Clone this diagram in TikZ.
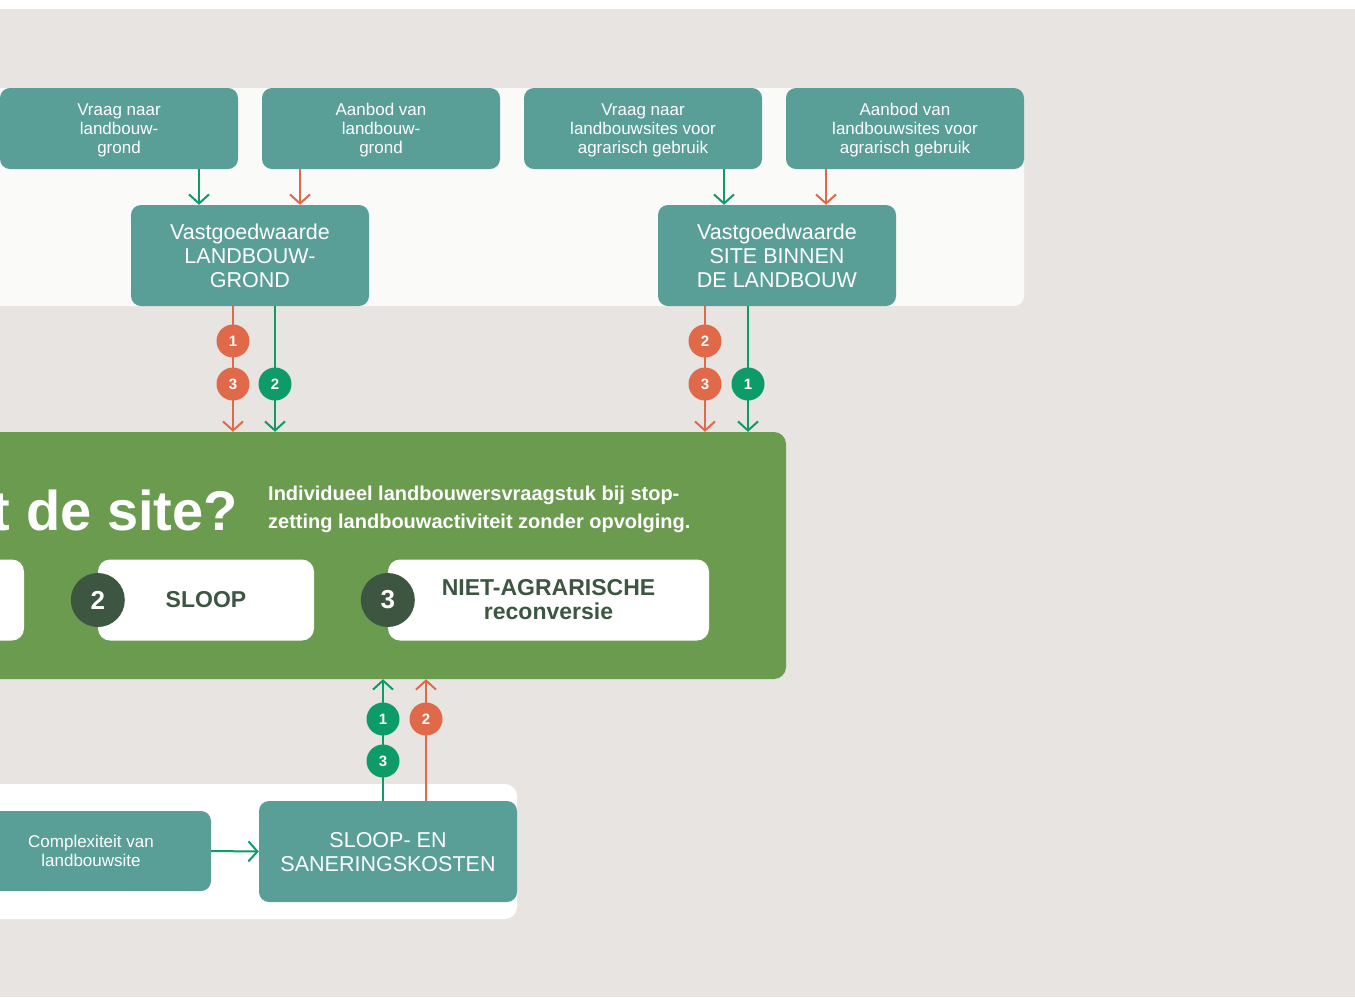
\documentclass[tikz,border=0pt]{standalone}
\usepackage{fontspec}
\setmainfont{Liberation Sans}
\usetikzlibrary{arrows.meta}
\definecolor{achter}{HTML}{E8E4E1}
\definecolor{paneel}{HTML}{FAFAF8}
\definecolor{blauwgroen}{HTML}{5A9E98}
\definecolor{oranje}{HTML}{E0694A}
\definecolor{groen}{HTML}{0E9B6A}
\definecolor{veld}{HTML}{6A9B4E}
\definecolor{donker}{HTML}{3C5641}
\begin{document}
\begin{tikzpicture}[x=1pt,y=-1pt,
  tbox/.style={rectangle,rounded corners=10pt,fill=blauwgroen,text=white,align=center,inner sep=0pt},
  klein/.style={font=\fontsize{17}{19}\selectfont,text depth=0pt},
  groot/.style={font=\fontsize{21.5}{24}\selectfont,text depth=0pt},
  wbox/.style={rectangle,rounded corners=12pt,fill=white,text=donker,align=center,inner sep=0pt,minimum height=81pt,font=\bfseries\fontsize{23}{24}\selectfont},
  onum/.style={circle,fill=oranje,text=white,minimum size=33pt,inner sep=0pt,font=\bfseries\fontsize{15}{15}\selectfont},
  gnum/.style={onum,fill=groen},
  dnum/.style={circle,fill=donker,text=white,minimum size=54pt,inner sep=0pt,font=\bfseries\fontsize{26}{26}\selectfont},
  opijl/.style={draw=oranje,line width=2pt,-{Straight Barb[length=9pt,width=20pt]}},
  gpijl/.style={opijl,draw=groen}]
 	\useasboundingbox (0,0) rectangle (1355,997);
 	\clip (0,0) rectangle (1355,997);
 	\fill[white] (0,0) rectangle (1355,997);
 	\fill[achter] (0,9) rectangle (1355,997);
 	\fill[paneel,rounded corners=10pt] (-20,88) rectangle (1024,306);
 	\fill[white,rounded corners=12pt] (-20,784) rectangle (517,919);
 	\node[tbox,klein,minimum width=238pt,minimum height=81pt] (vraaggrond) at (119,128.5) {Vraag naar\\landbouw-\\grond};
 	\node[tbox,klein,minimum width=238pt,minimum height=81pt] (aanbodgrond) at (381,128.5) {Aanbod van\\landbouw-\\grond};
 	\node[tbox,klein,minimum width=238pt,minimum height=81pt] (vraagsite) at (643,128.5) {Vraag naar\\landbouwsites voor\\agrarisch gebruik};
 	\node[tbox,klein,minimum width=238pt,minimum height=81pt] (aanbodsite) at (905,128.5) {Aanbod van\\landbouwsites voor\\agrarisch gebruik};
 	\node[tbox,groot,minimum width=238pt,minimum height=101pt] (vggrond) at (250,255.5) {Vastgoedwaarde\\LANDBOUW-\\GROND};
 	\node[tbox,groot,minimum width=238pt,minimum height=101pt] (vgsite) at (777,255.5) {Vastgoedwaarde\\SITE BINNEN\\DE LANDBOUW};
 	\node[fill=veld,rounded corners=12pt,minimum width=806pt,minimum height=247pt,inner sep=0pt] (site) at (383,555.5) {};
 	\node[anchor=base east,text=white,inner sep=0pt,font=\bfseries\fontsize{56}{56}\selectfont] (vraag) at (238,530) {t de site?};
 	\node[anchor=west,align=left,text=white,inner sep=0pt,font=\bfseries\fontsize{20}{28}\selectfont] (uitleg) at (268,509) {Individueel landbouwersvraagstuk bij stop-\\zetting landbouwactiviteit zonder opvolging.};
 	\node[wbox,minimum width=224pt] (behoud) at (-88,600) {};
 	\node[wbox,minimum width=216pt] (sloop) at (206,600) {SLOOP};
 	\node[wbox,minimum width=321pt] (reconv) at (548.5,600) {NIET-AGRARISCHE\\reconversie};
 	\node[dnum] (keuze2) at (sloop.west) {2};
 	\node[dnum] (keuze3) at (reconv.west) {3};
 	\node[tbox,klein,minimum width=240pt,minimum height=80pt] (complex) at (91,851) {Complexiteit van\\landbouwsite};
 	\node[tbox,groot,minimum width=258pt,minimum height=101pt] (kosten) at (388,851.5) {SLOOP- EN\\SANERINGSKOSTEN};
 	\draw[gpijl] (vraaggrond.south -| 199,0) -- (vggrond.north -| 199,0);
 	\draw[opijl] (aanbodgrond.south -| 300,0) -- (vggrond.north -| 300,0);
 	\draw[gpijl] (vraagsite.south -| 724,0) -- (vgsite.north -| 724,0);
 	\draw[opijl] (aanbodsite.south -| 826,0) -- (vgsite.north -| 826,0);
 	\draw[opijl] (vggrond.south -| 233,0) -- (site.north -| 233,0);
 	\draw[gpijl] (vggrond.south -| 275,0) -- (site.north -| 275,0);
 	\draw[opijl] (vgsite.south -| 705,0) -- (site.north -| 705,0);
 	\draw[gpijl] (vgsite.south -| 748,0) -- (site.north -| 748,0);
 	\draw[gpijl] (kosten.north -| 383,0) -- (site.south -| 383,0);
 	\draw[opijl] (kosten.north -| 426,0) -- (site.south -| 426,0);
 	\draw[gpijl] (complex.east) -- (kosten.west);
 	\node[onum] (grond1) at (233,341) {1};
 	\node[onum] (grond3) at (233,384) {3};
 	\node[gnum] (grond2) at (275,384) {2};
 	\node[onum] (site2) at (705,341) {2};
 	\node[onum] (site3) at (705,384) {3};
 	\node[gnum] (site1) at (748,384) {1};
 	\node[gnum] (kost1) at (383,719) {1};
 	\node[gnum] (kost3) at (383,761) {3};
 	\node[onum] (kost2) at (426,719) {2};
\end{tikzpicture}
\end{document}
